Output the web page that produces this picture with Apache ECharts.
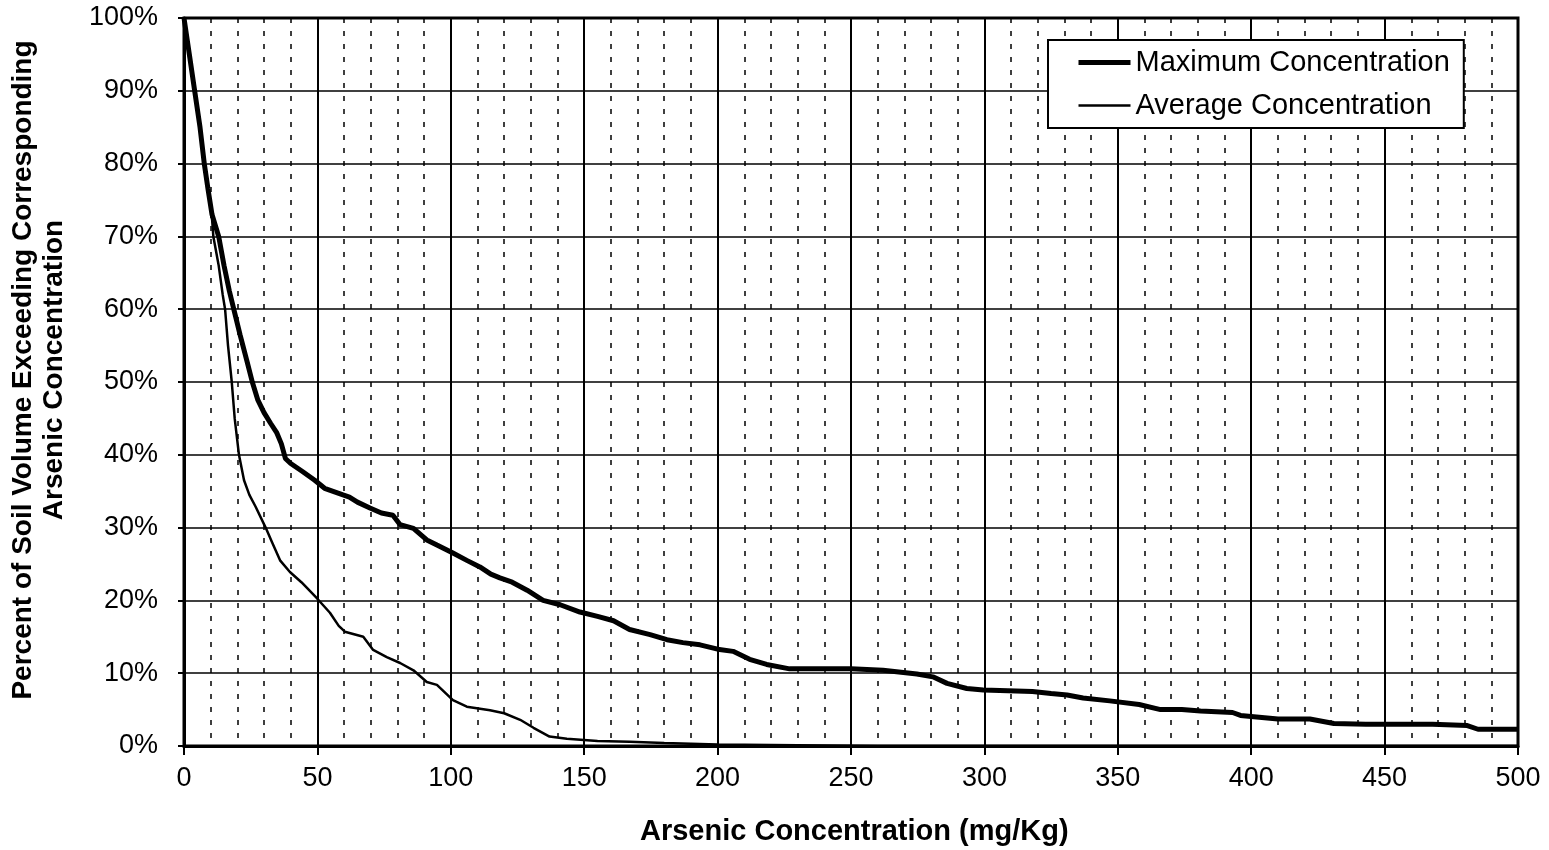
<!DOCTYPE html>
<html>
<head>
<meta charset="utf-8">
<script src="https://cdn.jsdelivr.net/npm/echarts@6/dist/echarts.min.js"></script>
<style>
html,body{margin:0;padding:0;background:#fff;}
#chart{width:1549px;height:850px;}
</style>
</head>
<body>
<div id="chart"></div>
<script>
// Maximum concentration curve (mg/Kg, % exceeding)
var maxX = [0,2,4,6,7.6,9,10.5,13,15,17,19,21,23.5,25.6,27.7,30,32.5,34.8,36.5,38,40,44.4,49,52.7,59.6,62,65,69.7,74,78.3,81,86,91,94.8,100.8,106,110.9,115,118.4,123,128.6,134.6,141,148.4,155,161,167,174.7,181,187,193.4,200,205.8,212,218.4,227,250,262,274.7,280.7,286,293.4,299.6,318,325,331,337,347,358,366,374,381,393,396,410,422,431,443,468,481,485,500];
var maxY = [100,95,90,85,80,76.5,73,70,66,62.5,59.5,56.5,53,50,47.5,45.8,44.3,43,41.5,39.5,38.8,37.7,36.5,35.4,34.5,34.2,33.5,32.7,32,31.7,30.4,29.9,28.3,27.6,26.5,25.5,24.6,23.6,23.1,22.5,21.4,20,19.4,18.4,17.8,17.2,16,15.3,14.6,14.2,13.9,13.3,13,11.9,11.2,10.6,10.6,10.4,9.9,9.5,8.6,7.9,7.7,7.5,7.2,7,6.6,6.2,5.7,5,5,4.8,4.6,4.2,3.7,3.7,3.1,3,3,2.8,2.3,2.3];
// Average concentration curve
var avgX = [0,2,4,6,7.6,9,10.4,11,13,14.5,15.4,16.5,17.9,19,20.6,22.5,24.5,26.8,30.6,33,36,39.7,44,49.8,54.7,58,60.3,67.2,70.9,76,81,86,91,94.8,100.8,106,114.7,120,126,131,137,143.5,155,167,180,200,230,260,500];
var avgY = [100,95,90,85,80,76.5,73,70,66,62,60,55,50,45,40,36.5,34.5,32.9,30,28,25.5,23.9,22.5,20.3,18.3,16.5,15.7,15,13.2,12.2,11.4,10.4,8.8,8.4,6.3,5.4,4.9,4.5,3.6,2.5,1.3,1,0.7,0.6,0.4,0.2,0.1,0,0];
var seriesNames = ['Maximum Concentration','Average Concentration'];
var xTitle = 'Arsenic Concentration (mg/Kg)';
var yTitle = 'Percent of Soil Volume Exceeding Corresponding\nArsenic Concentration';

function zip(xs, ys){ return xs.map(function(x,i){ return [x, ys[i]]; }); }

var chart = echarts.init(document.getElementById('chart'));
var font = 'Liberation Sans, Arial, sans-serif';
chart.setOption({
  animation: false,
  backgroundColor: '#fff',
  grid: { left: 184, right: 31, top: 18, bottom: 104, show: true, borderColor: '#000', borderWidth: 3, backgroundColor: 'transparent' },
  xAxis: {
    type: 'value', min: 0, max: 500, interval: 50,
    axisLine: { show: true, lineStyle: { color: '#000', width: 3 } },
    axisTick: { show: true, inside: false, length: 9, lineStyle: { color: '#000', width: 2 } },
    axisLabel: { color: '#000', fontSize: 27, fontFamily: font, margin: 19 },
    splitLine: { show: true, lineStyle: { color: '#000', width: 2 } },
    minorTick: { show: false, splitNumber: 5 },
    minorSplitLine: { show: true, lineStyle: { color: '#000', width: 1.5, type: [5, 8] } }
  },
  yAxis: {
    type: 'value', min: 0, max: 100, interval: 10,
    axisLine: { show: true, lineStyle: { color: '#000', width: 3 } },
    axisTick: { show: true, inside: false, length: 6, lineStyle: { color: '#000', width: 2 } },
    axisLabel: { color: '#000', fontSize: 27, fontFamily: font, margin: 26, formatter: '{value}%' },
    splitLine: { show: true, lineStyle: { color: '#000', width: 1.5 } }
  },
  legend: {
    orient: 'vertical', left: 1048, top: 40,
    padding: [8, 14, 8, 28],
    backgroundColor: '#fff', borderColor: '#000', borderWidth: 2,
    itemWidth: 52, itemHeight: 14, itemGap: 14,
    itemStyle: { opacity: 0 },
    textStyle: { color: '#000', fontSize: 29, fontFamily: font },
    data: [
      { name: seriesNames[0], lineStyle: { width: 5, color: '#000' } },
      { name: seriesNames[1], lineStyle: { width: 2.5, color: '#000' } }
    ]
  },
  graphic: [
    { type: 'text', left: 640, top: 817, style: { text: xTitle, fill: '#000', font: 'bold 29px ' + font } },
    { type: 'text', x: 39, y: 370, rotation: Math.PI / 2, style: { text: yTitle, fill: '#000', font: 'bold 28px ' + font, align: 'center', verticalAlign: 'middle', lineHeight: 31 } }
  ],
  series: [
    { name: seriesNames[0], type: 'line', data: zip(maxX, maxY), symbol: 'none', lineStyle: { color: '#000', width: 5 }, itemStyle: { color: '#000' }, z: 5 },
    { name: seriesNames[1], type: 'line', data: zip(avgX, avgY), symbol: 'none', lineStyle: { color: '#000', width: 2.5 }, itemStyle: { color: '#000' }, z: 4 }
  ]
});
</script>
</body>
</html>
